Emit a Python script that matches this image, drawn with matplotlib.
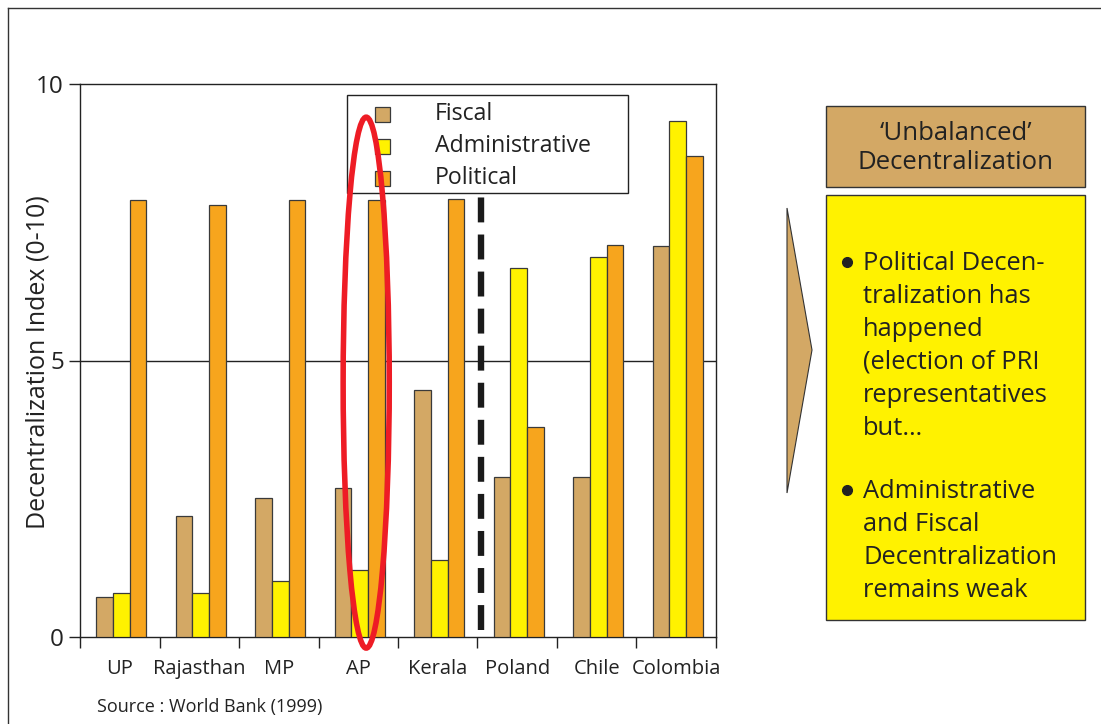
import matplotlib

matplotlib.use("Agg")
import matplotlib.pyplot as plt
from matplotlib.patches import Ellipse, Polygon, Rectangle
from matplotlib.lines import Line2D
import numpy as np

plt.rcParams["font.family"] = ["Open Sans", "DejaVu Sans"]

regions = ["UP", "Rajasthan", "MP", "AP", "Kerala", "Poland", "Chile", "Colombia"]
fiscal = [0.72, 2.19, 2.51, 2.69, 4.47, 2.89, 2.89, 7.07]
administrative = [0.80, 0.80, 1.01, 1.21, 1.39, 6.67, 6.87, 9.33]
political = [7.90, 7.81, 7.90, 7.90, 7.92, 3.80, 7.09, 8.70]
series_names = ["Fiscal", "Administrative", "Political"]
series_colors = ["#D3A865", "#FFF200", "#F7A51D"]

INK = "#222222"
W, H = 1101, 724
fig = plt.figure(figsize=(W / 100, H / 100), dpi=100)


def px(x0, y0, x1, y1):
    # figure-pixel box (top-left origin) -> axes rect
    return [x0 / W, 1 - y1 / H, (x1 - x0) / W, (y1 - y0) / H]


# outer page frame (only top and left edges are in view)
fig.add_artist(Line2D([8 / W, 1], [1 - 8 / H, 1 - 8 / H], color="#333333", lw=1))
fig.add_artist(Line2D([8 / W, 8 / W], [0, 1 - 8 / H], color="#333333", lw=1))

ax = fig.add_axes(px(80, 84, 716, 637))
x = np.arange(len(regions))
bw = 0.21
for i, vals in enumerate([fiscal, administrative, political]):
    ax.bar(x + (i - 1) * bw + 0.02, vals, width=bw, color=series_colors[i],
           edgecolor="#3a3a3a", lw=0.9, zorder=3)

ax.set_xlim(-0.5, len(regions) - 0.5)
ax.set_ylim(0, 10)
ax.axhline(5, color=INK, lw=1, zorder=1)
ax.set_yticks([0, 5, 10])
ax.set_xticks(x)
ax.set_xticklabels(regions)
ax.set_xticks(np.arange(-0.5, len(regions)), minor=True)
ax.tick_params(axis="x", which="major", length=0, pad=16, labelsize=14.5, colors=INK)
ax.tick_params(axis="x", which="minor", length=8, width=1, color=INK)
ax.tick_params(axis="y", length=8, width=1, pad=3.5, labelsize=17.5, colors=INK)
for s in ax.spines.values():
    s.set_color(INK)
    s.set_linewidth(1)

# separator between Indian states and the other countries
ax.plot([4.55, 4.55], [0.13, 8.45], color="#1a1a1a", lw=4.6, linestyle=(0, (3.9, 1.9)),
        solid_capstyle="butt", zorder=4)

# overlay in figure pixels for legend, labels and side panel
ov = fig.add_axes([0, 0, 1, 1], facecolor="none")
ov.set_xlim(0, W)
ov.set_ylim(H, 0)
ov.axis("off")

ov.text(38, 362, "Decentralization Index (0-10)", rotation=90, ha="center", va="center",
        fontsize=18, color=INK)
ov.text(97, 707, "Source : World Bank (1999)", fontsize=13, color=INK, va="center")

# legend box
ov.add_patch(Rectangle((347, 95), 281, 98, facecolor="white", edgecolor=INK, lw=1, zorder=5))
for k, (name, col) in enumerate(zip(series_names, series_colors)):
    yc = 114 + 32 * k
    ov.add_patch(Rectangle((375, yc - 7.5), 15, 15, facecolor=col, edgecolor="#3a3a3a",
                           lw=0.9, zorder=6))
    ov.text(435, yc, name, fontsize=16.7, color=INK, va="center", zorder=6)

# ring around Andhra Pradesh, drawn above the legend
ov.add_patch(Ellipse((3.1, 4.6), 0.58, 9.6, transform=ax.transData, fill=False,
                     edgecolor="#EE1C25", lw=4, clip_on=False, zorder=8))

# arrow and summary boxes
ov.add_patch(Polygon([(787, 208), (812, 350), (787, 493)], closed=True,
                     facecolor="#D3A865", edgecolor="#333333", lw=0.8))
ov.add_patch(Rectangle((826, 106), 259, 81, facecolor="#D3A865", edgecolor="#333333", lw=1))
ov.text(955.5, 148, "\u2018Unbalanced\u2019\nDecentralization", ha="center", va="center",
        fontsize=18.5, color=INK, linespacing=1.2)
ov.add_patch(Rectangle((826, 195), 259, 425, facecolor="#FFF200", edgecolor="#333333", lw=1))
bullets = [("Political Decen-\ntralization has\nhappened\n(election of PRI\nrepresentatives\nbut\u2026", 251),
           ("Administrative\nand Fiscal\nDecentralization\nremains weak", 479)]
for txt, ytop in bullets:
    ov.plot(847, ytop + 11, "o", ms=7, color=INK)
    ov.text(863, ytop, txt, ha="left", va="top", fontsize=18.4, color=INK,
            linespacing=1.42)

fig.savefig("out.png", dpi=100)
